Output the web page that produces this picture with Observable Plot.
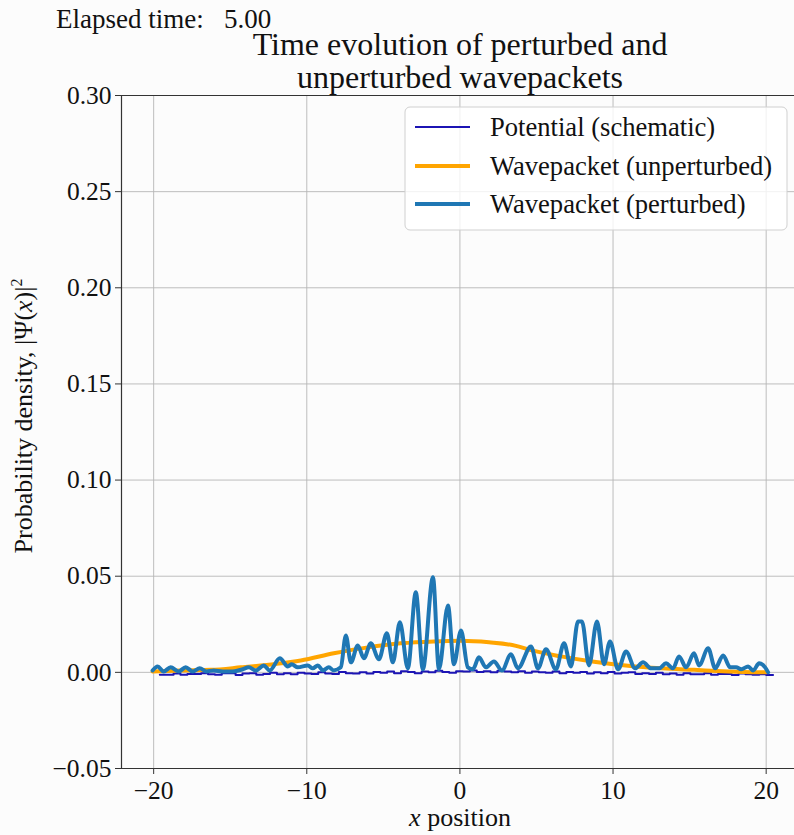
<!DOCTYPE html>
<html><head><meta charset="utf-8">
<script src="https://cdn.jsdelivr.net/npm/d3@7"></script>
<script src="https://cdn.jsdelivr.net/npm/@observablehq/plot@0.6"></script>
<style>
html,body{margin:0;padding:0;background:#fcfcfc;}
#chart{position:relative;width:794px;height:835px;overflow:hidden;}
</style></head><body><div id="chart"></div>
<script>
// ---- data ----
const xTicks = [-20, -10, 0, 10, 20];
const yTicks = [-0.05, 0.00, 0.05, 0.10, 0.15, 0.20, 0.25, 0.30];
const xDomain = [-22.1, 21.85];
const yDomain = [-0.05, 0.30];

const pertX = [-20.07,-19.74,-19.35,-18.89,-18.37,-17.91,-17.45,-16.99,-16.54,-16.08,-15.49,-14.84,-14.18,-13.79,-13.33,-12.81,-12.42,-11.76,-11.24,-10.98,-10.59,-9.93,-9.61,-9.28,-8.95,-8.56,-8.24,-7.78,-7.45,-7.12,-6.67,-6.27,-5.82,-5.29,-4.77,-4.38,-3.92,-3.40,-2.88,-2.42,-1.76,-1.37,-0.78,-0.39,0.07,0.52,0.85,1.24,1.70,2.22,2.75,3.33,3.79,4.64,5.10,5.62,6.27,6.80,7.25,7.71,7.97,8.43,8.95,9.41,9.80,10.33,10.85,11.44,11.96,12.48,13.01,13.46,13.92,14.31,14.77,15.29,15.62,16.21,16.67,17.19,17.65,18.04,18.37,18.82,19.15,19.54,19.93,20.13];
const pertY = [0.0010,0.0031,0.0005,0.0026,0.0005,0.0026,0.0005,0.0021,0.0005,0.0010,0.0005,0.0005,0.0016,0.0026,0.0010,0.0036,0.0010,0.0073,0.0031,0.0042,0.0026,0.0036,0.0021,0.0036,0.0010,0.0026,0.0010,0.0026,0.0192,0.0052,0.0140,0.0073,0.0151,0.0068,0.0203,0.0052,0.0260,0.0021,0.0416,0.0016,0.0494,0.0016,0.0348,0.0042,0.0218,0.0026,0.0016,0.0078,0.0026,0.0057,0.0010,0.0094,0.0021,0.0135,0.0021,0.0120,0.0016,0.0151,0.0031,0.0265,0.0265,0.0036,0.0265,0.0042,0.0161,0.0016,0.0109,0.0021,0.0052,0.0021,0.0021,0.0047,0.0021,0.0083,0.0026,0.0099,0.0036,0.0125,0.0021,0.0088,0.0026,0.0026,0.0016,0.0031,0.0010,0.0047,0.0026,0.0000];

const unpX = [-20.07,-18.24,-16.27,-14.31,-12.03,-10.39,-8.24,-6.01,-3.86,-1.70,0.07,1.90,3.66,4.51,6.60,8.76,10.98,13.14,15.29,17.52,20.00];
const unpY = [0.0005,0.0010,0.0013,0.0026,0.0044,0.0062,0.0099,0.0130,0.0151,0.0161,0.0164,0.0156,0.0138,0.0118,0.0083,0.0055,0.0034,0.0021,0.0013,0.0005,0.0000];

const potStart = -19.6, potStep = 0.45;
const potV = [-0.0012,-0.0012,-0.0006,-0.0012,-0.0008,-0.0008,-0.0004,-0.0010,-0.0012,-0.0004,-0.0004,-0.0014,-0.0006,-0.0004,-0.0012,-0.0008,-0.0002,
 -0.0010,-0.0004,-0.0010,-0.0002,-0.0006,-0.0008,0.0000,-0.0006,-0.0008,0.0002,-0.0004,-0.0006,0.0000,-0.0006,0.0002,-0.0002,0.0004,-0.0004,
 0.0006,0.0002,-0.0004,0.0004,0.0000,0.0008,0.0002,-0.0002,0.0006,0.0004,0.0010,0.0002,0.0006,0.0000,0.0008,0.0004,0.0000,0.0006,
 -0.0002,0.0004,0.0000,-0.0002,0.0004,-0.0004,0.0002,-0.0002,0.0002,-0.0006,0.0000,-0.0004,0.0002,-0.0006,-0.0002,0.0000,-0.0008,-0.0004,
 -0.0008,-0.0002,-0.0010,-0.0006,-0.0012,-0.0004,-0.0010,-0.0010,-0.0004,-0.0012,-0.0008,-0.0008,-0.0014,-0.0006,-0.0010,-0.0012,-0.0010,-0.0014,-0.0014];

const seriesNames = ["Potential (schematic)", "Wavepacket (unperturbed)", "Wavepacket (perturbed)"];
const seriesColors = ["#1c14b4", "#ffa500", "#1f77b4"];
const seriesWidths = [2, 4, 4];

// ---- tables ----
const pert = pertX.map((x, i) => ({x, y: pertY[i]}));
const unp = unpX.map((x, i) => ({x, y: unpY[i]}));
const pot = potV.map((y, i) => ({x: potStart + i * potStep, y}));

const serif = "'Liberation Serif', 'DejaVu Serif', 'Times New Roman', serif";

const plot = Plot.plot({
  width: 794, height: 835,
  marginLeft: 121, marginRight: 0, marginTop: 95, marginBottom: 67,
  style: {background: "#fcfcfc", fontFamily: serif, fontSize: "25.5px", color: "#111", overflow: "visible"},
  x: {domain: xDomain},
  y: {domain: yDomain},
  marks: [
    Plot.gridX(xTicks, {stroke: "#b5b5b5", strokeOpacity: 1, strokeWidth: 0.9}),
    Plot.gridY(yTicks, {stroke: "#b5b5b5", strokeOpacity: 1, strokeWidth: 0.9}),
    Plot.ruleX([xDomain[0]], {stroke: "#333", strokeWidth: 1.2}),
    Plot.ruleY([yDomain[0]], {stroke: "#333", strokeWidth: 1.2}),
    Plot.ruleY([yDomain[1]], {stroke: "#333", strokeWidth: 1.2}),
    Plot.axisX(xTicks, {tickFormat: d3.format("d"), tickSize: 6, tickPadding: 6, label: null, stroke: "#333"}),
    Plot.axisY(yTicks, {tickFormat: d3.format(".2f"), tickSize: 6, tickPadding: 4, label: null, stroke: "#333"}),
    Plot.line(pot, {x: "x", y: "y", curve: "step-after", stroke: seriesColors[0], strokeWidth: seriesWidths[0]}),
    Plot.line(unp, {x: "x", y: "y", curve: "monotone-x", stroke: seriesColors[1], strokeWidth: seriesWidths[1]}),
    Plot.line(pert, {x: "x", y: "y", curve: "monotone-x", stroke: seriesColors[2], strokeWidth: seriesWidths[2], strokeLinejoin: "round"})
  ]
});
document.getElementById("chart").appendChild(plot);

const svg = d3.select(plot);
// texts
svg.append("text").attr("x", 56).attr("y", 28).attr("text-anchor", "start").attr("font-size", 27).attr("fill", "#111")
  .attr("xml:space", "preserve").style("white-space", "pre").text("Elapsed time:   5.00");
const title = svg.append("text").attr("text-anchor", "middle").attr("font-size", 32).attr("fill", "#111");
title.append("tspan").attr("x", 460).attr("y", 55).text("Time evolution of perturbed and");
title.append("tspan").attr("x", 460).attr("y", 88).text("unperturbed wavepackets");

const xl = svg.append("text").attr("x", 460).attr("y", 826).attr("text-anchor", "middle").attr("font-size", 26).attr("fill", "#111");
xl.append("tspan").attr("font-style", "italic").text("x");
xl.append("tspan").text(" position");

const yl = svg.append("text").attr("transform", "translate(32,416) rotate(-90)").attr("text-anchor", "middle").attr("font-size", 26).attr("fill", "#111");
yl.append("tspan").text("Probability density, |Ψ(");
yl.append("tspan").attr("font-style", "italic").text("x");
yl.append("tspan").text(")|");
yl.append("tspan").attr("font-size", 16).attr("dy", -10).text("2");

// legend
const lg = svg.append("g");
lg.append("rect").attr("x", 405).attr("y", 107).attr("width", 382).attr("height", 123).attr("rx", 5)
  .attr("fill", "#ffffff").attr("fill-opacity", 0.8).attr("stroke", "#d0d0d0");
const rowY = [127, 166, 204];
seriesNames.forEach((name, i) => {
  lg.append("line").attr("x1", 415).attr("x2", 470).attr("y1", rowY[i]).attr("y2", rowY[i])
    .attr("stroke", seriesColors[i]).attr("stroke-width", seriesWidths[i]);
  lg.append("text").attr("x", 490).attr("y", rowY[i] + 9).attr("text-anchor", "start").attr("font-size", 26.6).attr("fill", "#111").text(name);
});
</script></body></html>
